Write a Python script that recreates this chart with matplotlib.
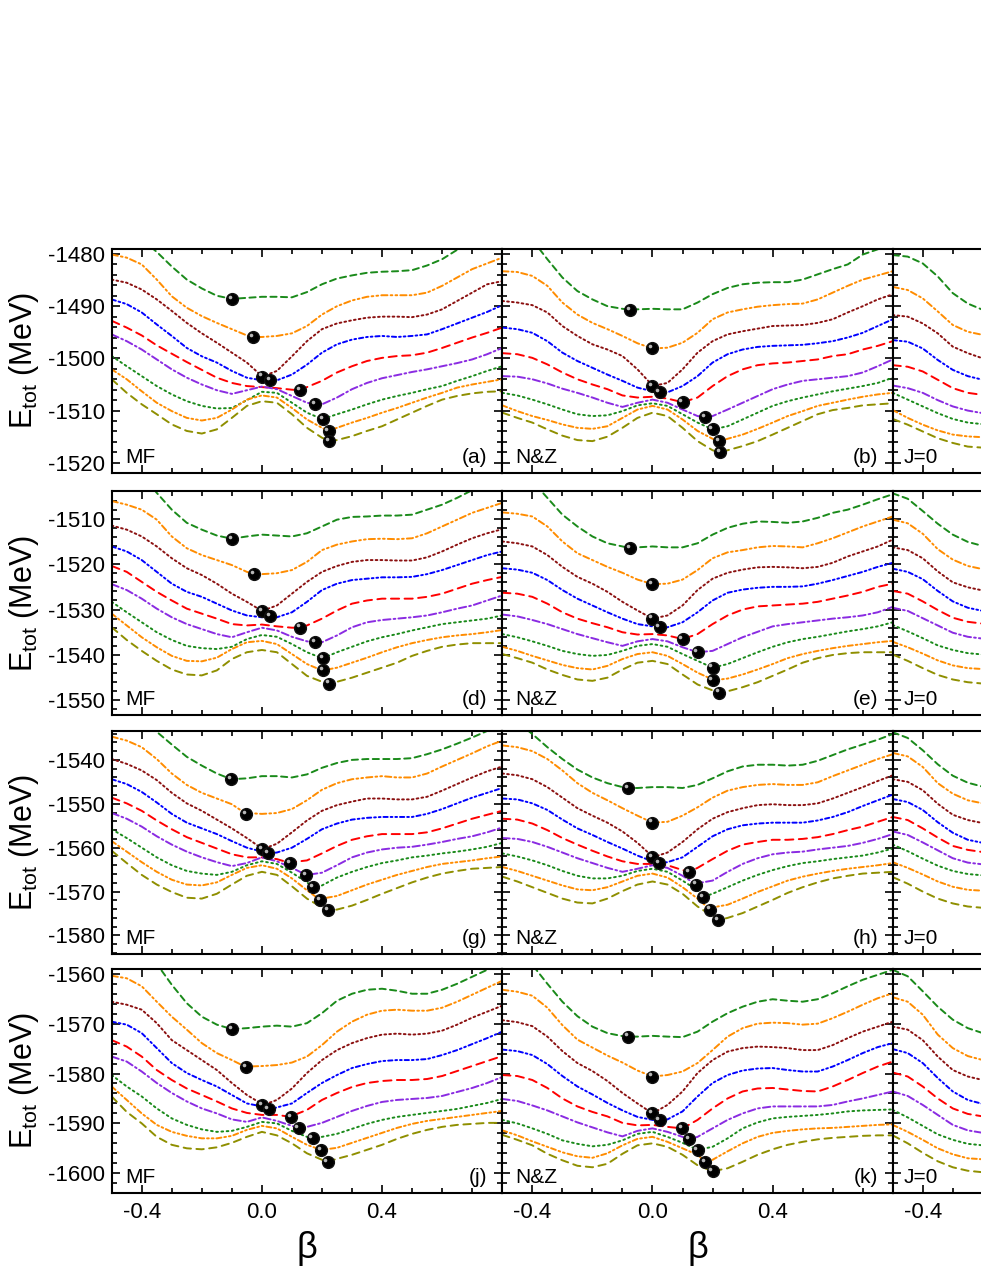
import numpy as np
import matplotlib.pyplot as plt
from matplotlib.ticker import MultipleLocator
import matplotlib.transforms as mtransforms

plt.rcParams['font.family'] = ['Liberation Sans', 'DejaVu Sans']
plt.rcParams['mathtext.default'] = 'regular'
plt.rcParams['axes.unicode_minus'] = False

# beta grid the curves were read on
BETA = np.round(np.arange(-0.5, 0.801, 0.05), 2)
BETA_J0 = BETA[:7]   # only -0.5 .. -0.2 of the J=0 column is inside the figure

# ---- row 1 : MF (a) ----
mf1 = [
    [-1472, -1474.5, -1477.2, -1479.6, -1482.4, -1484.9, -1486.6, -1488.0, -1488.6, -1488.4, -1488.2, -1488.2, -1488.3, -1487.3, -1485.8, -1484.7, -1484.1, -1483.6, -1483.4, -1483.3, -1483.1, -1482.2, -1481.0, -1479.2, -1477.0, -1475.0, -1473.0],
    [-1480.1, -1480.7, -1482.0, -1484.9, -1488.1, -1490.3, -1491.9, -1493.2, -1494.4, -1495.6, -1495.9, -1495.7, -1495.2, -1493.8, -1491.6, -1490.0, -1488.9, -1488.2, -1487.9, -1487.9, -1487.9, -1487.4, -1486.1, -1484.5, -1482.9, -1481.8, -1480.7],
    [-1484.9, -1485.5, -1486.8, -1488.7, -1490.9, -1493.2, -1495.2, -1497.0, -1498.9, -1500.8, -1503.4, -1502.4, -1499.6, -1496.7, -1494.4, -1493.3, -1492.7, -1492.2, -1492.0, -1492.0, -1492.1, -1491.6, -1490.6, -1489.0, -1487.4, -1485.8, -1485.2],
    [-1488.7, -1489.6, -1491.2, -1493.5, -1495.7, -1498.0, -1499.6, -1500.8, -1502.4, -1503.7, -1504.2, -1504.2, -1503.1, -1501.2, -1498.9, -1497.3, -1496.4, -1495.9, -1495.7, -1495.9, -1495.7, -1495.4, -1494.4, -1493.3, -1492.2, -1491.1, -1489.8],
    [-1492.8, -1494.1, -1495.6, -1497.5, -1499.1, -1500.7, -1502.2, -1503.7, -1504.7, -1505.3, -1505.5, -1505.7, -1506.0, -1505.5, -1504.3, -1502.7, -1501.5, -1500.5, -1499.9, -1499.55, -1499.4, -1498.9, -1498.0, -1497.0, -1496.0, -1495.1, -1494.1],
    [-1495.4, -1496.7, -1498.3, -1500.2, -1502.1, -1503.7, -1505.0, -1506.1, -1506.8, -1506.1, -1505.4, -1505.9, -1507.2, -1508.5, -1508.8, -1507.5, -1505.9, -1504.7, -1503.8, -1503.2, -1502.6, -1502.1, -1501.5, -1500.9, -1500.2, -1499.2, -1498.0],
    [-1499.55, -1501.5, -1503.4, -1505.3, -1506.9, -1508.2, -1509.1, -1509.6, -1509.5, -1508.0, -1506.4, -1506.6, -1508.5, -1510.4, -1511.6, -1510.7, -1509.8, -1508.8, -1507.9, -1507.2, -1506.6, -1505.9, -1505.3, -1504.3, -1503.4, -1502.4, -1501.5],
    [-1502.1, -1504.0, -1506.3, -1508.5, -1510.1, -1511.4, -1511.9, -1511.4, -1509.8, -1507.9, -1507.1, -1507.5, -1509.5, -1511.7, -1513.3, -1513.3, -1512.3, -1511.4, -1510.4, -1509.5, -1508.5, -1507.5, -1506.6, -1505.6, -1505.0, -1504.5, -1504.0],
    [-1504.0, -1506.6, -1508.8, -1510.7, -1512.65, -1513.9, -1514.4, -1513.6, -1511.4, -1509.1, -1508.2, -1508.5, -1510.7, -1513.3, -1515.2, -1515.65, -1514.9, -1513.9, -1513.0, -1511.7, -1510.4, -1509.1, -1507.9, -1507.2, -1506.7, -1506.4, -1506.3],
]
mf1_min_beta = [-0.10, -0.028, 0.0, 0.028, 0.128, 0.178, 0.203, 0.222, 0.224]
mf1_min_e = [-1488.6, -1495.9, -1503.5, -1504.2, -1506.1, -1508.8, -1511.6, -1513.9, -1515.8]

# ---- row 1 : N&Z (b) ----
nz1 = [
    [-1472, -1474.5, -1477.3, -1481.0, -1484.5, -1487.1, -1488.7, -1490.0, -1490.5, -1490.6, -1490.5, -1490.6, -1490.6, -1489.3, -1487.7, -1486.5, -1485.8, -1485.5, -1485.4, -1485.4, -1484.9, -1483.9, -1482.9, -1482.0, -1480.1, -1479.1, -1477.5],
    [-1483.3, -1483.45, -1484.2, -1486.1, -1489.3, -1491.6, -1493.2, -1494.4, -1495.7, -1497.1, -1498.1, -1497.95, -1497.0, -1495.1, -1492.5, -1491.2, -1490.6, -1490.1, -1489.8, -1489.6, -1489.5, -1488.7, -1487.4, -1486.1, -1484.9, -1484.1, -1483.3],
    [-1489.0, -1489.3, -1489.8, -1491.2, -1493.8, -1495.7, -1497.3, -1498.3, -1499.55, -1502.1, -1505.2, -1504.7, -1502.1, -1498.9, -1496.7, -1495.4, -1494.8, -1494.3, -1493.8, -1493.7, -1493.6, -1493.2, -1492.5, -1491.2, -1490.0, -1488.7, -1487.7],
    [-1494.1, -1494.4, -1495.1, -1496.7, -1498.9, -1500.5, -1501.8, -1503.1, -1504.3, -1505.6, -1506.3, -1506.5, -1505.3, -1503.4, -1500.8, -1499.2, -1498.3, -1497.8, -1497.6, -1497.5, -1497.4, -1497.1, -1496.7, -1496.0, -1495.1, -1493.8, -1492.5],
    [-1499.0, -1499.2, -1499.9, -1501.15, -1502.7, -1504.0, -1505.0, -1505.9, -1507.1, -1507.5, -1507.35, -1507.7, -1508.4, -1507.5, -1505.3, -1503.4, -1502.1, -1501.3, -1500.96, -1500.8, -1500.5, -1500.2, -1499.55, -1499.2, -1498.3, -1497.6, -1496.7],
    [-1503.4, -1503.5, -1504.0, -1504.8, -1505.8, -1506.6, -1507.5, -1508.5, -1509.3, -1508.5, -1507.9, -1508.5, -1509.8, -1511.05, -1511.05, -1509.8, -1508.5, -1507.2, -1505.9, -1505.0, -1504.3, -1504.0, -1503.7, -1503.4, -1502.7, -1501.5, -1500.2],
    [-1506.6, -1507.1, -1507.9, -1508.8, -1509.8, -1510.7, -1511.05, -1510.9, -1510.1, -1509.0, -1508.6, -1509.1, -1510.7, -1512.3, -1513.6, -1513.0, -1511.7, -1510.4, -1509.1, -1508.2, -1507.5, -1506.9, -1506.3, -1505.8, -1505.3, -1504.7, -1503.7],
    [-1509.0, -1510.1, -1511.05, -1511.8, -1512.65, -1513.3, -1513.5, -1513.0, -1511.4, -1509.8, -1509.1, -1509.8, -1511.7, -1513.9, -1515.4, -1515.4, -1514.6, -1513.5, -1512.3, -1511.05, -1510.1, -1509.1, -1508.5, -1507.9, -1507.35, -1506.9, -1506.6],
    [-1510.4, -1511.4, -1512.3, -1513.6, -1514.8, -1515.65, -1515.85, -1515.0, -1513.3, -1511.4, -1510.4, -1511.05, -1513.3, -1515.85, -1517.6, -1517.6, -1516.8, -1515.85, -1514.6, -1513.3, -1512.0, -1510.7, -1509.9, -1509.5, -1509.0, -1508.8, -1508.6],
]
nz1_min_beta = [-0.074, 0.0, 0.0, 0.024, 0.1, 0.174, 0.2, 0.222, 0.224]
nz1_min_e = [-1490.7, -1498.1, -1505.3, -1506.5, -1508.4, -1511.2, -1513.6, -1515.9, -1518.0]

# ---- row 1 : J=0 ----
j01 = [
    [-1480.2, -1480.5, -1481.8, -1484.3, -1487.5, -1489.5, -1490.7],
    [-1486.3, -1486.9, -1488.5, -1491.0, -1493.6, -1494.9, -1495.5],
    [-1491.7, -1492.0, -1493.3, -1495.2, -1497.75, -1499.0, -1500.0],
    [-1496.5, -1496.8, -1498.1, -1500.3, -1502.2, -1503.4, -1504.1],
    [-1501.3, -1501.6, -1502.5, -1504.1, -1505.7, -1506.6, -1507.0],
    [-1505.2, -1505.7, -1506.6, -1508.0, -1509.2, -1510.0, -1510.5],
    [-1506.6, -1507.9, -1509.2, -1510.5, -1511.6, -1512.3, -1512.6],
    [-1509.9, -1511.4, -1512.7, -1513.8, -1514.6, -1514.95, -1515.1],
    [-1511.6, -1512.7, -1514.0, -1515.3, -1516.2, -1516.9, -1517.1],
]

# ---- row 2 : MF (d) ----
mf2 = [
    [-1493.2, -1496.5, -1500.2, -1504.3, -1508.0, -1510.9, -1512.4, -1513.7, -1514.4, -1513.9, -1513.5, -1513.7, -1513.9, -1513.2, -1511.7, -1510.2, -1509.6, -1509.5, -1509.3, -1509.3, -1509.1, -1508.0, -1506.9, -1505.4, -1503.7, -1501.7, -1499.8],
    [-1506.1, -1506.9, -1508.0, -1510.2, -1513.9, -1516.5, -1518.0, -1519.1, -1520.2, -1521.7, -1522.2, -1522.0, -1521.3, -1519.5, -1516.9, -1515.7, -1515.0, -1514.5, -1514.4, -1514.5, -1514.3, -1513.2, -1511.7, -1510.2, -1508.7, -1507.6, -1506.5],
    [-1511.5, -1512.4, -1513.9, -1516.1, -1518.7, -1520.9, -1522.4, -1524.3, -1526.5, -1528.3, -1530.3, -1529.1, -1526.5, -1523.9, -1521.7, -1520.4, -1519.5, -1519.1, -1519.1, -1519.2, -1519.2, -1518.5, -1517.2, -1515.7, -1514.3, -1513.2, -1512.3],
    [-1516.1, -1517.2, -1519.1, -1521.7, -1524.3, -1526.1, -1527.2, -1528.7, -1530.2, -1531.3, -1531.7, -1531.7, -1530.6, -1528.3, -1525.7, -1524.3, -1523.5, -1523.2, -1522.9, -1522.9, -1522.8, -1522.2, -1521.3, -1520.2, -1519.1, -1518.0, -1517.2],
    [-1520.4, -1521.7, -1523.9, -1526.1, -1528.0, -1529.8, -1530.9, -1532.0, -1533.2, -1533.5, -1533.3, -1533.7, -1534.0, -1533.5, -1532.0, -1530.2, -1528.7, -1528.0, -1527.6, -1527.6, -1527.6, -1527.2, -1526.5, -1525.4, -1524.3, -1523.5, -1522.8],
    [-1524.4, -1525.7, -1527.6, -1529.8, -1531.7, -1533.2, -1534.3, -1535.4, -1536.1, -1535.0, -1534.0, -1534.6, -1536.0, -1537.0, -1537.2, -1535.7, -1533.9, -1532.8, -1532.3, -1532.0, -1531.7, -1531.3, -1530.6, -1529.8, -1529.1, -1528.0, -1526.9],
    [-1528.3, -1530.6, -1532.8, -1535.0, -1536.7, -1538.0, -1538.5, -1538.7, -1538.2, -1536.5, -1535.6, -1536.0, -1537.6, -1539.4, -1540.7, -1539.4, -1538.2, -1537.0, -1536.1, -1535.4, -1534.6, -1533.9, -1533.2, -1532.8, -1532.4, -1532.0, -1531.3],
    [-1530.9, -1533.5, -1536.1, -1538.3, -1540.2, -1541.3, -1541.4, -1540.6, -1538.7, -1537.2, -1536.9, -1537.6, -1539.8, -1542.0, -1543.4, -1542.8, -1541.7, -1540.6, -1539.4, -1538.3, -1537.4, -1536.7, -1536.1, -1535.7, -1535.4, -1535.0, -1534.5],
    [-1533.9, -1536.7, -1539.1, -1541.3, -1543.2, -1544.3, -1544.5, -1543.4, -1540.9, -1539.4, -1538.9, -1539.4, -1542.0, -1544.6, -1545.9, -1545.9, -1545.0, -1543.9, -1542.8, -1541.7, -1540.2, -1539.1, -1538.2, -1537.7, -1537.4, -1537.4, -1537.4],
]
mf2_min_beta = [-0.10, -0.026, 0.0, 0.028, 0.126, 0.178, 0.203, 0.203, 0.224]
mf2_min_e = [-1514.4, -1522.2, -1530.3, -1531.5, -1534.0, -1537.2, -1540.7, -1543.4, -1546.3]

# ---- row 2 : N&Z (e) ----
nz2 = [
    [-1493.9, -1497.6, -1501.7, -1505.4, -1509.1, -1511.7, -1513.9, -1515.4, -1516.1, -1516.3, -1516.1, -1516.3, -1516.3, -1515.4, -1513.5, -1512.0, -1511.1, -1510.6, -1510.7, -1510.9, -1510.6, -1509.8, -1508.7, -1508.0, -1506.9, -1505.7, -1504.6],
    [-1508.6, -1508.9, -1509.5, -1511.7, -1515.0, -1517.6, -1519.1, -1520.6, -1521.9, -1523.4, -1524.4, -1524.3, -1523.4, -1521.3, -1518.7, -1517.4, -1516.9, -1516.3, -1516.0, -1516.1, -1516.3, -1515.4, -1514.3, -1513.0, -1511.7, -1510.6, -1509.5],
    [-1515.0, -1515.4, -1516.1, -1518.0, -1520.6, -1522.8, -1524.3, -1526.1, -1528.3, -1530.2, -1532.0, -1531.3, -1529.1, -1525.7, -1523.2, -1521.9, -1521.2, -1520.7, -1520.6, -1520.7, -1520.9, -1520.6, -1519.7, -1518.3, -1517.2, -1516.1, -1514.6],
    [-1520.9, -1521.2, -1521.9, -1523.5, -1525.7, -1527.6, -1529.1, -1530.6, -1532.0, -1533.2, -1533.7, -1533.9, -1532.8, -1530.6, -1528.0, -1526.3, -1525.6, -1525.2, -1525.0, -1525.0, -1524.9, -1524.3, -1523.5, -1522.6, -1521.7, -1520.6, -1519.7],
    [-1526.3, -1526.5, -1527.2, -1528.7, -1530.6, -1532.0, -1533.0, -1533.9, -1535.0, -1535.5, -1535.4, -1535.7, -1536.5, -1535.4, -1533.2, -1531.3, -1530.0, -1529.3, -1529.1, -1528.9, -1528.7, -1528.3, -1527.6, -1526.9, -1526.1, -1525.0, -1524.3],
    [-1531.1, -1531.5, -1532.3, -1533.2, -1534.3, -1535.4, -1536.3, -1537.2, -1538.0, -1537.0, -1536.5, -1537.0, -1538.3, -1539.4, -1539.1, -1537.6, -1536.1, -1534.9, -1533.7, -1533.2, -1532.8, -1532.4, -1532.0, -1531.7, -1531.3, -1530.6, -1529.4],
    [-1535.4, -1536.1, -1537.0, -1538.0, -1539.1, -1539.8, -1540.2, -1540.0, -1539.1, -1538.0, -1537.6, -1538.2, -1539.8, -1541.3, -1542.8, -1542.0, -1540.7, -1539.4, -1538.2, -1537.2, -1536.5, -1536.0, -1535.4, -1534.8, -1534.3, -1533.7, -1532.8],
    [-1538.2, -1539.1, -1540.2, -1541.2, -1542.2, -1542.9, -1543.2, -1542.4, -1540.9, -1539.8, -1539.4, -1540.2, -1542.0, -1543.9, -1545.4, -1545.2, -1544.3, -1543.2, -1542.0, -1540.7, -1539.8, -1539.1, -1538.5, -1538.0, -1537.6, -1537.2, -1536.9],
    [-1539.8, -1540.7, -1541.7, -1543.2, -1544.4, -1545.4, -1545.7, -1545.0, -1543.2, -1541.7, -1541.3, -1542.0, -1544.3, -1546.5, -1547.8, -1548.0, -1547.1, -1546.0, -1544.6, -1543.2, -1541.7, -1540.7, -1540.0, -1539.6, -1539.4, -1539.4, -1539.4],
]
nz2_min_beta = [-0.074, 0.0, 0.0, 0.024, 0.1, 0.15, 0.2, 0.2, 0.222]
nz2_min_e = [-1516.5, -1524.4, -1532.0, -1533.9, -1536.5, -1539.4, -1542.8, -1545.6, -1548.3]

# ---- row 2 : J=0 ----
j02 = [
    [-1504.4, -1505.6, -1508.3, -1511.1, -1513.5, -1515.1, -1516.0],
    [-1510.2, -1511.0, -1513.3, -1516.7, -1519.0, -1520.4, -1521.1],
    [-1516.3, -1516.9, -1518.7, -1521.6, -1524.0, -1525.1, -1525.8],
    [-1521.0, -1521.7, -1523.3, -1525.9, -1528.2, -1529.6, -1530.3],
    [-1525.9, -1526.5, -1528.2, -1530.1, -1531.8, -1532.7, -1533.1],
    [-1529.6, -1530.3, -1531.9, -1533.5, -1535.1, -1536.0, -1536.4],
    [-1533.4, -1534.8, -1536.3, -1537.9, -1538.9, -1539.6, -1539.9],
    [-1537.1, -1538.3, -1539.7, -1541.2, -1542.3, -1542.9, -1543.1],
    [-1539.9, -1541.3, -1542.9, -1544.4, -1545.4, -1546.0, -1546.3],
]

# ---- row 3 : MF (g) ----
mf3 = [
    [-1524.4, -1527.7, -1530.5, -1533.6, -1536.5, -1539.3, -1541.3, -1543.1, -1544.4, -1544.2, -1543.7, -1543.7, -1544.0, -1543.3, -1541.8, -1540.7, -1540.0, -1539.8, -1539.8, -1539.8, -1539.6, -1538.7, -1537.6, -1536.3, -1534.9, -1533.4, -1532.1],
    [-1534.7, -1535.6, -1537.1, -1539.8, -1543.1, -1545.7, -1547.5, -1548.8, -1550.1, -1552.1, -1552.3, -1552.1, -1551.2, -1549.2, -1546.8, -1545.3, -1544.4, -1544.0, -1543.7, -1544.0, -1544.0, -1543.1, -1541.5, -1540.0, -1538.5, -1536.9, -1535.6],
    [-1539.8, -1540.9, -1542.4, -1544.6, -1547.5, -1549.9, -1551.6, -1553.6, -1555.6, -1557.8, -1560.2, -1559.1, -1556.5, -1553.8, -1551.6, -1550.3, -1549.5, -1548.8, -1548.8, -1549.0, -1549.0, -1548.4, -1547.0, -1545.5, -1544.0, -1542.6, -1541.5],
    [-1544.4, -1545.5, -1547.3, -1549.7, -1552.3, -1554.3, -1555.6, -1556.9, -1558.5, -1560.0, -1560.9, -1561.1, -1560.0, -1558.0, -1555.8, -1554.5, -1553.6, -1553.2, -1553.0, -1553.0, -1553.0, -1552.3, -1551.2, -1549.9, -1548.6, -1547.5, -1546.4],
    [-1548.6, -1549.9, -1551.6, -1553.8, -1555.8, -1557.6, -1558.9, -1560.2, -1561.5, -1562.2, -1562.2, -1562.6, -1563.3, -1562.9, -1561.3, -1559.6, -1558.2, -1557.4, -1556.9, -1556.9, -1556.9, -1556.5, -1555.6, -1554.5, -1553.4, -1552.5, -1551.6],
    [-1552.1, -1553.4, -1555.2, -1557.4, -1559.3, -1560.9, -1562.2, -1563.3, -1564.2, -1563.5, -1562.2, -1563.1, -1564.6, -1566.2, -1565.7, -1564.0, -1562.2, -1561.1, -1560.4, -1560.0, -1559.8, -1559.3, -1558.7, -1558.0, -1557.4, -1556.5, -1555.4],
    [-1555.8, -1557.8, -1560.0, -1562.2, -1564.0, -1565.3, -1565.9, -1566.2, -1565.5, -1564.0, -1563.1, -1563.7, -1565.7, -1567.9, -1568.6, -1566.8, -1565.5, -1564.4, -1563.5, -1562.9, -1562.2, -1561.8, -1561.3, -1560.9, -1560.4, -1559.8, -1558.9],
    [-1558.5, -1560.9, -1563.3, -1565.5, -1567.3, -1568.4, -1568.6, -1567.9, -1566.2, -1564.6, -1564.0, -1564.8, -1567.0, -1569.7, -1571.6, -1571.0, -1569.7, -1568.4, -1567.3, -1566.2, -1565.3, -1564.4, -1563.7, -1563.3, -1562.9, -1562.4, -1562.0],
    [-1560.7, -1563.5, -1566.2, -1568.4, -1570.1, -1571.4, -1571.6, -1570.5, -1568.4, -1566.4, -1565.5, -1566.2, -1568.8, -1571.6, -1573.6, -1574.1, -1573.2, -1571.9, -1570.5, -1569.2, -1567.9, -1566.8, -1565.9, -1565.3, -1564.8, -1564.6, -1564.4],
]
mf3_min_beta = [-0.102, -0.052, 0.0, 0.02, 0.094, 0.148, 0.171, 0.194, 0.221]
mf3_min_e = [-1544.4, -1552.3, -1560.4, -1561.3, -1563.5, -1566.2, -1569.0, -1571.9, -1574.3]

# ---- row 3 : N&Z (h) ----
nz3 = [
    [-1528.8, -1531.4, -1534.1, -1537.1, -1539.8, -1542.2, -1544.0, -1545.3, -1546.2, -1546.4, -1546.2, -1546.2, -1546.4, -1545.7, -1544.2, -1542.6, -1541.5, -1541.1, -1541.1, -1541.3, -1541.1, -1540.2, -1538.9, -1537.6, -1536.5, -1535.4, -1534.1],
    [-1536.7, -1537.1, -1538.0, -1539.8, -1542.4, -1545.3, -1547.5, -1549.2, -1551.0, -1552.7, -1554.3, -1554.1, -1552.7, -1550.8, -1548.6, -1547.0, -1546.2, -1545.7, -1545.5, -1545.7, -1545.7, -1545.1, -1543.7, -1542.4, -1541.1, -1539.8, -1538.7],
    [-1543.1, -1543.5, -1544.4, -1546.2, -1548.6, -1551.0, -1552.7, -1554.3, -1556.3, -1558.9, -1562.0, -1561.1, -1558.7, -1555.8, -1553.4, -1551.9, -1551.0, -1550.3, -1550.1, -1550.3, -1550.3, -1549.9, -1548.8, -1547.5, -1546.2, -1544.8, -1543.5],
    [-1548.8, -1549.0, -1549.9, -1551.4, -1553.6, -1555.6, -1557.1, -1558.7, -1560.2, -1561.8, -1563.1, -1563.3, -1562.2, -1559.8, -1557.4, -1555.8, -1554.9, -1554.5, -1554.3, -1554.3, -1554.3, -1553.8, -1553.0, -1551.9, -1550.5, -1549.2, -1547.9],
    [-1553.4, -1553.6, -1554.5, -1556.0, -1557.8, -1559.3, -1560.7, -1562.0, -1563.1, -1563.7, -1563.7, -1564.0, -1565.1, -1564.6, -1562.6, -1560.7, -1559.3, -1558.7, -1558.2, -1558.2, -1558.0, -1557.6, -1556.9, -1556.0, -1555.2, -1554.1, -1553.0],
    [-1557.8, -1558.0, -1558.7, -1559.8, -1561.1, -1562.4, -1563.5, -1564.6, -1565.5, -1564.8, -1564.0, -1564.6, -1566.4, -1568.1, -1567.5, -1565.5, -1563.7, -1562.4, -1561.5, -1561.1, -1560.9, -1560.4, -1560.0, -1559.6, -1558.9, -1558.0, -1556.9],
    [-1561.3, -1562.0, -1562.9, -1564.0, -1565.3, -1566.4, -1567.0, -1567.0, -1566.4, -1565.3, -1564.8, -1565.5, -1567.5, -1569.7, -1570.5, -1569.0, -1567.5, -1566.2, -1565.1, -1564.2, -1563.5, -1563.1, -1562.6, -1562.2, -1561.8, -1561.1, -1560.2],
    [-1564.4, -1565.3, -1566.4, -1567.5, -1568.6, -1569.5, -1569.7, -1569.0, -1567.7, -1566.4, -1565.9, -1566.8, -1569.0, -1571.6, -1573.6, -1573.0, -1571.6, -1570.1, -1568.8, -1567.5, -1566.6, -1565.9, -1565.3, -1564.8, -1564.4, -1564.0, -1563.5],
    [-1566.6, -1567.7, -1569.0, -1570.3, -1571.6, -1572.5, -1572.7, -1571.6, -1569.9, -1568.4, -1567.7, -1568.4, -1570.5, -1573.4, -1575.6, -1576.0, -1574.9, -1573.4, -1571.9, -1570.3, -1569.0, -1567.9, -1567.0, -1566.4, -1565.9, -1565.7, -1565.5],
]
nz3_min_beta = [-0.081, 0.0, 0.0, 0.022, 0.122, 0.146, 0.169, 0.192, 0.219]
nz3_min_e = [-1546.4, -1554.3, -1562.2, -1563.5, -1565.5, -1568.4, -1571.2, -1574.1, -1576.5]

# ---- row 3 : J=0 ----
j03 = [
    [-1533.7, -1535.0, -1537.8, -1541.0, -1543.6, -1545.2, -1546.1],
    [-1538.4, -1539.2, -1541.6, -1545.3, -1547.7, -1549.2, -1549.9],
    [-1544.4, -1545.0, -1546.9, -1550.0, -1552.5, -1553.7, -1554.4],
    [-1548.9, -1549.6, -1551.4, -1554.2, -1556.6, -1558.2, -1558.9],
    [-1553.0, -1553.7, -1555.6, -1557.7, -1559.6, -1560.5, -1561.0],
    [-1556.3, -1557.1, -1558.8, -1560.6, -1562.4, -1563.4, -1563.8],
    [-1559.3, -1560.8, -1562.5, -1564.1, -1565.3, -1566.0, -1566.3],
    [-1563.3, -1564.6, -1566.1, -1567.7, -1568.9, -1569.6, -1569.8],
    [-1566.7, -1568.2, -1570.0, -1571.6, -1572.7, -1573.4, -1573.7],
]

# ---- row 4 : MF (j) ----
mf4 = [
    [-1545.8, -1549.8, -1553.8, -1558.0, -1562.2, -1565.9, -1568.6, -1570.2, -1571.1, -1570.9, -1570.6, -1570.4, -1570.6, -1569.9, -1567.9, -1565.4, -1564.0, -1563.2, -1563.0, -1563.4, -1564.0, -1564.0, -1563.2, -1562.0, -1560.6, -1559.2, -1557.8],
    [-1560.4, -1560.9, -1562.5, -1565.6, -1568.6, -1571.2, -1573.9, -1575.9, -1577.3, -1578.6, -1578.5, -1578.3, -1577.8, -1576.6, -1574.3, -1571.6, -1569.6, -1568.2, -1567.4, -1567.2, -1567.4, -1567.4, -1566.8, -1565.6, -1564.2, -1562.8, -1561.4],
    [-1565.6, -1566.2, -1567.2, -1569.9, -1573.3, -1575.3, -1577.3, -1579.3, -1581.9, -1584.3, -1586.1, -1585.3, -1583.0, -1579.9, -1577.3, -1575.3, -1573.9, -1572.9, -1572.2, -1572.0, -1572.2, -1572.0, -1571.4, -1570.2, -1568.8, -1567.6, -1566.4],
    [-1569.6, -1570.2, -1571.9, -1574.9, -1577.9, -1579.9, -1581.3, -1582.6, -1584.3, -1586.0, -1586.6, -1586.8, -1586.0, -1583.9, -1581.9, -1580.3, -1578.9, -1578.1, -1577.5, -1577.3, -1577.3, -1577.1, -1576.3, -1575.3, -1574.1, -1572.9, -1571.6],
    [-1573.3, -1574.6, -1576.6, -1579.3, -1581.3, -1583.0, -1584.3, -1585.6, -1587.0, -1587.9, -1588.3, -1588.3, -1588.5, -1587.3, -1585.3, -1583.9, -1582.7, -1581.9, -1581.5, -1581.3, -1581.3, -1581.1, -1580.5, -1579.5, -1578.5, -1577.5, -1576.5],
    [-1576.6, -1577.6, -1579.6, -1581.9, -1583.9, -1585.6, -1587.0, -1588.0, -1589.2, -1589.7, -1588.8, -1589.5, -1590.5, -1590.7, -1589.9, -1588.7, -1587.5, -1586.5, -1585.7, -1585.3, -1585.1, -1584.9, -1584.5, -1583.7, -1582.9, -1581.9, -1580.7],
    [-1580.3, -1582.6, -1584.6, -1587.0, -1589.0, -1590.3, -1591.2, -1591.7, -1591.5, -1590.7, -1589.7, -1590.0, -1591.5, -1592.7, -1592.7, -1592.1, -1591.1, -1590.1, -1589.3, -1588.7, -1588.3, -1587.9, -1587.5, -1587.1, -1586.5, -1585.9, -1585.1],
    [-1582.6, -1585.3, -1588.0, -1590.3, -1591.7, -1592.5, -1593.0, -1593.0, -1592.5, -1591.3, -1590.5, -1591.0, -1592.7, -1594.3, -1595.3, -1594.9, -1593.9, -1592.9, -1591.9, -1590.9, -1590.1, -1589.5, -1589.1, -1588.7, -1588.3, -1587.9, -1587.5],
    [-1584.6, -1587.7, -1590.0, -1592.7, -1594.3, -1595.0, -1595.2, -1594.8, -1593.9, -1592.7, -1591.7, -1592.4, -1594.0, -1596.0, -1597.3, -1597.1, -1596.3, -1595.3, -1594.3, -1593.1, -1592.1, -1591.3, -1590.7, -1590.3, -1590.1, -1589.9, -1589.9],
]
mf4_min_beta = [-0.10, -0.053, 0.0, 0.022, 0.097, 0.122, 0.169, 0.197, 0.219]
mf4_min_e = [-1571.1, -1578.7, -1586.4, -1587.2, -1588.7, -1590.9, -1593.0, -1595.3, -1597.7]

# ---- row 4 : N&Z (k) ----
nz4 = [
    [-1550.0, -1554.0, -1558.2, -1562.0, -1565.6, -1568.5, -1570.6, -1571.9, -1572.5, -1572.6, -1572.45, -1572.6, -1572.7, -1571.6, -1569.6, -1567.9, -1566.6, -1565.6, -1565.1, -1565.4, -1565.6, -1565.1, -1563.9, -1562.5, -1561.2, -1560.2, -1559.2],
    [-1563.2, -1563.6, -1564.4, -1566.8, -1570.3, -1573.2, -1574.8, -1576.4, -1577.8, -1579.4, -1580.6, -1580.3, -1579.6, -1577.9, -1575.3, -1572.6, -1570.9, -1570.0, -1569.8, -1569.9, -1570.2, -1570.0, -1568.9, -1567.6, -1566.2, -1564.9, -1563.9],
    [-1569.3, -1569.7, -1570.5, -1572.6, -1575.5, -1577.9, -1579.5, -1581.5, -1583.9, -1586.0, -1588.0, -1586.3, -1583.6, -1579.9, -1577.3, -1575.6, -1574.9, -1574.6, -1574.7, -1574.9, -1575.3, -1575.3, -1574.3, -1572.9, -1571.6, -1570.6, -1569.6],
    [-1575.2, -1575.5, -1576.3, -1578.1, -1580.5, -1582.6, -1584.2, -1585.9, -1587.4, -1588.7, -1589.3, -1589.2, -1587.6, -1584.6, -1581.9, -1580.3, -1579.4, -1579.0, -1578.9, -1579.3, -1579.6, -1579.6, -1578.6, -1577.3, -1575.9, -1574.7, -1573.9],
    [-1580.3, -1580.5, -1581.3, -1582.9, -1585.0, -1586.6, -1587.7, -1588.6, -1589.9, -1590.4, -1590.3, -1590.7, -1591.0, -1589.3, -1587.0, -1585.0, -1583.6, -1583.0, -1582.9, -1583.2, -1583.5, -1583.6, -1582.6, -1581.3, -1579.9, -1578.6, -1577.6],
    [-1585.1, -1585.5, -1586.4, -1587.4, -1588.6, -1589.8, -1590.8, -1591.8, -1592.6, -1591.5, -1591.0, -1591.7, -1592.7, -1592.7, -1591.0, -1589.3, -1588.0, -1587.0, -1586.6, -1586.6, -1586.6, -1586.6, -1586.3, -1585.6, -1585.0, -1584.3, -1583.6],
    [-1589.3, -1590.0, -1591.0, -1592.1, -1593.4, -1594.1, -1594.6, -1594.3, -1593.4, -1592.1, -1591.7, -1592.7, -1593.9, -1595.3, -1594.7, -1593.0, -1591.0, -1589.8, -1589.0, -1588.7, -1588.5, -1588.3, -1588.0, -1587.6, -1587.4, -1587.3, -1587.2],
    [-1591.4, -1592.4, -1593.6, -1594.7, -1595.8, -1596.6, -1596.9, -1596.0, -1594.4, -1593.1, -1592.7, -1593.7, -1595.0, -1596.3, -1597.3, -1595.6, -1594.0, -1592.7, -1591.9, -1591.5, -1591.2, -1591.0, -1590.9, -1590.7, -1590.5, -1590.3, -1590.2],
    [-1592.3, -1593.3, -1594.4, -1596.1, -1597.4, -1598.5, -1598.8, -1598.1, -1596.1, -1594.4, -1594.0, -1594.7, -1596.3, -1598.4, -1599.6, -1599.0, -1597.7, -1596.3, -1595.2, -1594.3, -1593.7, -1593.2, -1592.9, -1592.7, -1592.5, -1592.4, -1592.4],
]
nz4_min_beta = [-0.08, 0.0, 0.0, 0.024, 0.098, 0.122, 0.15, 0.176, 0.2]
nz4_min_e = [-1572.6, -1580.6, -1588.0, -1589.4, -1591.0, -1593.2, -1595.3, -1597.7, -1599.6]

# ---- row 4 : J=0 ----
j04 = [
    [-1559.2, -1560.5, -1563.5, -1566.6, -1569.2, -1570.9, -1571.9],
    [-1564.7, -1565.6, -1568.2, -1572.2, -1574.9, -1576.5, -1577.3],
    [-1570.6, -1571.2, -1573.3, -1576.6, -1579.3, -1580.6, -1581.3],
    [-1575.1, -1575.9, -1577.9, -1580.9, -1583.6, -1585.3, -1586.1],
    [-1579.8, -1580.6, -1582.6, -1585.0, -1587.0, -1588.1, -1588.6],
    [-1583.6, -1584.5, -1586.3, -1588.3, -1590.3, -1591.4, -1591.9],
    [-1587.3, -1588.8, -1590.5, -1592.2, -1593.3, -1594.1, -1594.4],
    [-1590.3, -1591.7, -1593.3, -1595.0, -1596.2, -1597.0, -1597.2],
    [-1592.4, -1594.0, -1595.9, -1597.6, -1598.8, -1599.5, -1599.8],
]

# y ranges and labelled ticks per row
ROW_YLIM = [(-1521.9, -1479.1), (-1553.2, -1504.0), (-1584.2, -1533.3), (-1603.9, -1559.1)]
ROW_YTICKS = [np.arange(-1520, -1479, 10), np.arange(-1550, -1509, 10),
              np.arange(-1580, -1539, 10), np.arange(-1600, -1559, 10)]

# line style of the nine curves, top to bottom
COLORS = ['#1a8a1a', '#ff8c00', '#8b1010', '#0000ff', '#ff0000',
          '#8a2be2', '#1a8a1a', '#ff8c00', '#8f8f00']
DASHES = [(3.2, 2.2), (3.2, 1.6, 0.9, 1.6, 0.9, 1.6), (0.9, 1.6), (2.2, 1.5, 0.9, 1.5, 0.9, 1.5),
          (4.2, 2.8), (3.8, 1.6, 0.9, 1.6), (0.9, 1.8), (2.6, 1.5, 0.9, 1.5, 0.9, 1.5), (3.8, 2.8)]

W, H = 981, 1269
COL_LEFT = [111.7, 502.3, 892.7]
ROW_TOP = [249.3, 491.5, 730.5, 969.3]
PW, PH = 390.5, 223.4

fig = plt.figure(figsize=(W / 100, H / 100), dpi=100)

panels = [
    (0, 0, mf1, mf1_min_beta, mf1_min_e, 'MF', '(a)'),
    (0, 1, nz1, nz1_min_beta, nz1_min_e, 'N&Z', '(b)'),
    (0, 2, j01, None, None, 'J=0', ''),
    (1, 0, mf2, mf2_min_beta, mf2_min_e, 'MF', '(d)'),
    (1, 1, nz2, nz2_min_beta, nz2_min_e, 'N&Z', '(e)'),
    (1, 2, j02, None, None, 'J=0', ''),
    (2, 0, mf3, mf3_min_beta, mf3_min_e, 'MF', '(g)'),
    (2, 1, nz3, nz3_min_beta, nz3_min_e, 'N&Z', '(h)'),
    (2, 2, j03, None, None, 'J=0', ''),
    (3, 0, mf4, mf4_min_beta, mf4_min_e, 'MF', '(j)'),
    (3, 1, nz4, nz4_min_beta, nz4_min_e, 'N&Z', '(k)'),
    (3, 2, j04, None, None, 'J=0', ''),
]

for row, col, curves, mb, me, tag, letter in panels:
    ax = fig.add_axes([COL_LEFT[col] / W, 1 - (ROW_TOP[row] + PH) / H, PW / W, PH / H])
    ax.set_xlim(-0.5, 0.8)
    ax.set_ylim(*ROW_YLIM[row])
    for s in ax.spines.values():
        s.set_linewidth(1.5)

    xs = BETA_J0 if col == 2 else BETA
    for i, ys in enumerate(curves):
        x = np.array(xs, dtype=float)
        y = np.array(ys, dtype=float)
        if mb is not None:
            # the marked minimum is a point of the curve too
            x = np.append(x, mb[i])
            y = np.append(y, me[i])
            order = np.argsort(x, kind='stable')
            x, y = x[order], y[order]
        ax.plot(x, y, color=COLORS[i], lw=1.4, dashes=DASHES[i],
                dash_capstyle='round', solid_capstyle='round')
    if mb is not None:
        ax.plot(mb, me, 'o', ms=8.5, color='black', mec='#111111', zorder=5)
        hl = ax.transData + mtransforms.ScaledTranslation(-1.6 / 72, 1.6 / 72, fig.dpi_scale_trans)
        ax.plot(mb, me, 'o', ms=2.6, color='#b8b8b8', mec='none', zorder=6, transform=hl)

    ax.xaxis.set_major_locator(plt.FixedLocator([-0.4, 0.0, 0.4, 0.8]))
    ax.xaxis.set_minor_locator(MultipleLocator(0.1))
    ax.set_yticks(ROW_YTICKS[row])
    ax.yaxis.set_minor_locator(MultipleLocator(2))
    ax.tick_params(which='both', direction='in', top=True, right=True, width=1.2,
                   labelsize=16)
    ax.tick_params(which='major', length=6, pad=5)
    ax.tick_params(which='minor', length=3.5)

    if row == 3:
        if col == 2:
            ax.set_xticklabels(['-0.4', '', '', ''])
        else:
            ax.set_xticklabels(['-0.4', '0.0', '0.4', ''])
        ax.tick_params(axis='x', pad=7)
    else:
        ax.tick_params(labelbottom=False)
    if col == 0:
        ax.set_yticklabels(['%d' % v for v in ROW_YTICKS[row]])
    else:
        ax.tick_params(labelleft=False)

    ax.text(0.027 if col == 2 else 0.034, 0.045, tag, transform=ax.transAxes,
            fontsize=15, ha='left', va='baseline')
    if letter:
        ax.text(0.962, 0.045, letter, transform=ax.transAxes,
                fontsize=15, ha='right', va='baseline')

for row in range(4):
    yc = 1 - (ROW_TOP[row] + PH / 2) / H
    fig.text(24 / W, yc, r'E$_{tot}$ (MeV)', rotation=90, fontsize=22,
             ha='center', va='center')

for col in range(2):
    fig.text((COL_LEFT[col] + PW / 2) / W, 1 - 1249 / H, '\u03b2', fontsize=26,
             ha='center', va='center')

fig.savefig('out.png', dpi=100)
